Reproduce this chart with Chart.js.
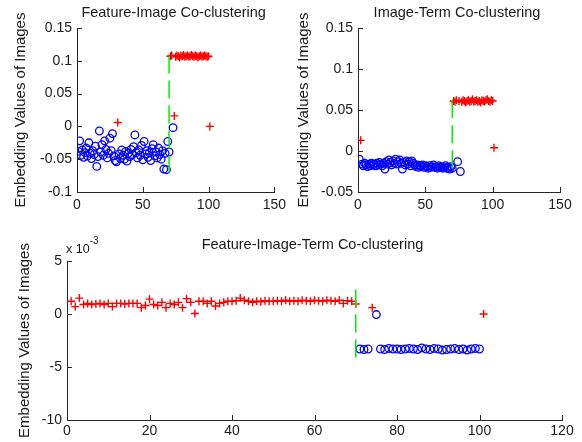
<!DOCTYPE html>
<html lang="en">
<head>
<meta charset="UTF-8">
<title>Embedding Values of Images</title>
<script src="https://cdn.jsdelivr.net/npm/chart.js"></script>
<style>
  body { margin: 0; background: #fff; }
  .panel { position: absolute; }
</style>
</head>
<body>
<div class="panel" style="left:0;top:0"><canvas id="fi" width="291" height="221"></canvas></div>
<div class="panel" style="left:291px;top:0"><canvas id="it" width="291" height="221"></canvas></div>
<div class="panel" style="left:0;top:221px"><canvas id="fit" width="582" height="221"></canvas></div>

<script>
// embedding value of each image (image 1..101)
const fiValues = [
  -0.038, -0.022, -0.044, -0.036, -0.047, -0.040, -0.033, -0.045, -0.025, -0.041,
  -0.049, -0.037, -0.043, -0.030, -0.061, -0.046, -0.007, -0.039, -0.028, -0.044,
  -0.022, -0.035, -0.048, -0.041, -0.018, -0.037, -0.011, -0.045, -0.052, -0.054,
   0.006, -0.042, -0.049, -0.036, -0.044, -0.050, -0.038, -0.053, -0.041, -0.046,
  -0.035, -0.043, -0.031, -0.013, -0.040, -0.048, -0.036, -0.044, -0.029, -0.051,
  -0.023, -0.042, -0.037, -0.047, -0.040, -0.052, -0.034, -0.028, -0.045, -0.039,
  -0.048, -0.033, -0.043, -0.050, -0.037, -0.065, -0.041, -0.066, -0.023, -0.039,
   0.107,  0.108, -0.002,  0.016,  0.106,  0.108,  0.107,  0.105,  0.108,  0.107,
   0.109,  0.106,  0.107,  0.108,  0.106,  0.107,  0.109,  0.107,  0.106,  0.108,
   0.107,  0.105,  0.107,  0.108,  0.106,  0.107,  0.108,  0.107,  0.106,  0.107,
   0.000
];
// images drawn with '+' in each panel; all others are circles
const fiPlus = [31, 71, 72, 74, 75, 76, 77, 78, 79, 80, 81, 82, 83, 84, 85, 86, 87, 88,
  89, 90, 91, 92, 93, 94, 95, 96, 97, 98, 99, 100, 101];

const itValues = [
  -0.010,  0.013, -0.016, -0.018, -0.015, -0.017, -0.019, -0.016, -0.018, -0.015,
  -0.017, -0.016, -0.018, -0.015, -0.017, -0.014, -0.016, -0.018, -0.015, -0.022,
  -0.013, -0.016, -0.011, -0.014, -0.017, -0.012, -0.015, -0.010, -0.016, -0.013,
  -0.011, -0.015, -0.022, -0.014, -0.017, -0.012, -0.016, -0.013, -0.018, -0.012,
  -0.015, -0.017, -0.019, -0.017, -0.020, -0.018, -0.019, -0.017, -0.020, -0.018,
  -0.019, -0.021, -0.018, -0.020, -0.019, -0.017, -0.020, -0.019, -0.021, -0.018,
  -0.020, -0.019, -0.021, -0.020, -0.018, -0.021, -0.020, -0.022, -0.019, -0.021,
   0.061,  0.060,  0.062, -0.013,  0.061, -0.025,  0.060,  0.062,  0.061,  0.059,
   0.061,  0.062,  0.060,  0.061,  0.063,  0.060,  0.061,  0.062,  0.060,  0.061,
   0.059,  0.062,  0.061,  0.060,  0.062,  0.063,  0.061,  0.060,  0.062,  0.061,
   0.004
];
const itPlus = [2, 71, 72, 73, 75, 77, 78, 79, 80, 81, 82, 83, 84, 85, 86, 87, 88, 89,
  90, 91, 92, 93, 94, 95, 96, 97, 98, 99, 100, 101];

// bottom panel values are in units of 1e-3
const fitValues = [
   1.20,  0.70,  1.50,  0.90,  1.00,  0.90,  0.95,  1.00,  0.90,  1.00,
   0.70,  1.00,  1.00,  0.95,  1.00,  1.00,  1.00,  0.60,  0.80,  1.40,
   0.90,  0.80,  1.10,  0.60,  1.00,  0.90,  1.10,  0.60,  1.45,  1.10,
   0.05,  1.20,  1.20,  1.00,  1.20,  0.75,  1.00,  1.10,  1.20,  1.20,
   1.25,  1.50,  1.30,  1.20,  1.10,  1.20,  1.15,  1.25,  1.20,  1.20,
   1.25,  1.20,  1.30,  1.20,  1.25,  1.20,  1.30,  1.25,  1.20,  1.30,
   1.25,  1.20,  1.30,  1.25,  1.20,  1.30,  1.00,  1.25,  1.20,  0.95,
  -3.30, -3.35, -3.30,  0.60, -0.05, -3.30, -3.35, -3.25, -3.30, -3.30,
  -3.35, -3.30, -3.25, -3.30, -3.35, -3.20, -3.30, -3.35, -3.25, -3.30,
  -3.40, -3.35, -3.30, -3.25, -3.35, -3.30, -3.40, -3.30, -3.25, -3.30,
   0.00
];
const fitPlus = [1, 2, 3, 4, 5, 6, 7, 8, 9, 10, 11, 12, 13, 14, 15, 16, 17, 18, 19, 20,
  21, 22, 23, 24, 25, 26, 27, 28, 29, 30, 31, 32, 33, 34, 35, 36, 37, 38, 39, 40,
  41, 42, 43, 44, 45, 46, 47, 48, 49, 50, 51, 52, 53, 54, 55, 56, 57, 58, 59, 60,
  61, 62, 63, 64, 65, 66, 67, 68, 69, 70, 74, 101];

// cluster boundary marker (x, top, bottom)
const fiBoundary = [70, 0.108, -0.070];
const itBoundary = [70, 0.062, -0.026];
const fitBoundary = [70, 2.3, -4.45];

const TEXT = '#1a1a1a';
const AXIS = '#262626';
const FONT = '"Liberation Sans", Arial, sans-serif';

Chart.defaults.font.family = FONT;
Chart.defaults.font.size = 14;
Chart.defaults.color = TEXT;

const matlabAxes = {
  id: 'matlab',
  afterDraw(chart, args, o) {
    const { ctx, chartArea: a } = chart;
    const xs = chart.scales.x, ys = chart.scales.y;
    ctx.save();
    // ticks point inwards
    ctx.strokeStyle = AXIS;
    ctx.lineWidth = 1;
    ctx.beginPath();
    xs.ticks.forEach(t => {
      const px = Math.round(xs.getPixelForValue(t.value)) + 0.5;
      ctx.moveTo(px, a.bottom);
      ctx.lineTo(px, a.bottom - 5);
    });
    ys.ticks.forEach(t => {
      const py = Math.round(ys.getPixelForValue(t.value)) + 0.5;
      ctx.moveTo(a.left, py);
      ctx.lineTo(a.left + 5, py);
    });
    ctx.stroke();

    ctx.fillStyle = TEXT;
    ctx.font = '14.5px ' + FONT;
    ctx.textAlign = 'center';
    ctx.textBaseline = 'alphabetic';
    ctx.fillText(o.title, (a.left + a.right) / 2 - 2, a.top - o.titleGap);

    if (o.exponent) {
      ctx.textAlign = 'left';
      ctx.font = '12.5px ' + FONT;
      ctx.fillText('x 10', a.left - 1, a.top - 8);
      const w = ctx.measureText('x 10').width;
      ctx.font = '10px ' + FONT;
      ctx.fillText(o.exponent, a.left - 1 + w, a.top - 17);
    }

    ctx.translate(o.labelX, (a.top + a.bottom) / 2);
    ctx.rotate(-Math.PI / 2);
    ctx.font = '15px ' + FONT;
    ctx.textAlign = 'center';
    ctx.textBaseline = 'middle';
    ctx.fillText('Embedding Values of Images', 0, 0);
    ctx.restore();
  }
};

function makeChart(id, values, plus, boundary, p) {
  const circles = [], crosses = [];
  values.forEach((v, i) => {
    const pt = { x: i + 1, y: v };
    (plus.includes(i + 1) ? crosses : circles).push(pt);
  });
  return new Chart(document.getElementById(id), {
    type: 'scatter',
    data: {
      datasets: [
        {
          data: [{ x: boundary[0], y: boundary[1] }, { x: boundary[0], y: boundary[2] }],
          showLine: true,
          borderColor: '#00ee00',
          borderWidth: 1.5,
          borderDash: [18, 7],
          pointRadius: 0
        },
        {
          data: crosses,
          pointStyle: 'cross',
          pointRadius: 4,
          borderColor: '#ff0000',
          pointBorderWidth: 1.4
        },
        {
          data: circles,
          pointStyle: 'circle',
          pointRadius: 3.8,
          borderColor: '#0000ff',
          backgroundColor: 'rgba(0,0,0,0)',
          pointBorderWidth: 1.3
        }
      ]
    },
    options: {
      responsive: false,
      animation: false,
      devicePixelRatio: 1,
      events: [],
      layout: { padding: { left: 0, right: p.padRight, top: p.padTop, bottom: 0 } },
      plugins: {
        legend: { display: false },
        tooltip: { enabled: false },
        matlab: { title: p.title, titleGap: p.titleGap, labelX: p.labelX, exponent: p.exponent }
      },
      scales: {
        x: {
          type: 'linear',
          min: 0, max: p.xMax,
          afterFit: s => { s.height = p.xHeight; },
          grid: { display: false, drawTicks: false },
          border: { display: true, color: AXIS, width: 1 },
          ticks: { stepSize: p.xStep, autoSkip: false, maxRotation: 0, padding: p.xPad, color: TEXT }
        },
        y: {
          min: p.yMin, max: p.yMax,
          afterFit: s => { s.width = p.yWidth; },
          grid: { display: false, drawTicks: false },
          border: { display: true, color: AXIS, width: 1 },
          ticks: {
            stepSize: p.yStep, autoSkip: false, padding: 5, color: TEXT,
            callback: v => String(+v.toFixed(2))
          }
        }
      }
    },
    plugins: [matlabAxes]
  });
}

makeChart('fi', fiValues, fiPlus, fiBoundary, {
  title: 'Feature-Image Co-clustering', titleGap: 11, labelX: 20.5,
  xMax: 150, xStep: 50, yMin: -0.1, yMax: 0.15, yStep: 0.05,
  padRight: 13, padTop: 28, yWidth: 77, xHeight: 29, xPad: 5
});
makeChart('it', itValues, itPlus, itBoundary, {
  title: 'Image-Term Co-clustering', titleGap: 11, labelX: 12.5,
  xMax: 150, xStep: 50, yMin: -0.05, yMax: 0.15, yStep: 0.05,
  padRight: 22, padTop: 28, yWidth: 67, xHeight: 29, xPad: 5
});
makeChart('fit', fitValues, fitPlus, fitBoundary, {
  title: 'Feature-Image-Term Co-clustering', titleGap: 12, labelX: 24.5, exponent: '-3',
  xMax: 120, xStep: 20, yMin: -10, yMax: 5, yStep: 5,
  padRight: 20, padTop: 40, yWidth: 67, xHeight: 22, xPad: 3
});
</script>
</body>
</html>
